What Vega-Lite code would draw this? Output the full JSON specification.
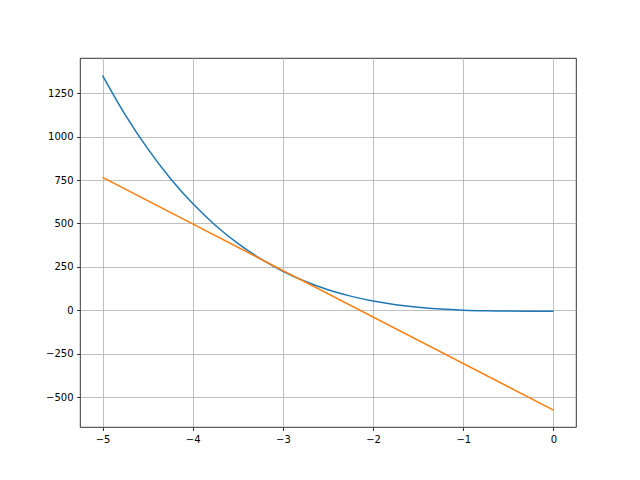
{
  "$schema": "https://vega.github.io/schema/vega-lite/v6.json",
  "autosize": "none",
  "width": 496,
  "height": 369,
  "padding": {"left": 80, "top": 58, "right": 64, "bottom": 53},
  "background": "white",
  "config": {
    "view": {"stroke": "black", "strokeWidth": 0.8},
    "axis": {
      "labelFont": "DejaVu Sans",
      "labelFontSize": 10,
      "labelColor": "black",
      "tickColor": "black",
      "tickSize": 3.5,
      "tickWidth": 0.8,
      "labelPadding": 3.5,
      "domain": false,
      "gridColor": "#b0b0b0",
      "gridWidth": 0.8,
      "title": null
    }
  },
  "data": {
    "values": [
      {"x": -5, "y": 1351.3, "s": "f"},
      {"x": -4.75, "y": 1126.5, "s": "f"},
      {"x": -4.5, "y": 930.4, "s": "f"},
      {"x": -4.25, "y": 760.5, "s": "f"},
      {"x": -4, "y": 614.5, "s": "f"},
      {"x": -3.75, "y": 490.1, "s": "f"},
      {"x": -3.5, "y": 385.0, "s": "f"},
      {"x": -3.25, "y": 297.1, "s": "f"},
      {"x": -3, "y": 224.8, "s": "f"},
      {"x": -2.75, "y": 165.9, "s": "f"},
      {"x": -2.5, "y": 118.8, "s": "f"},
      {"x": -2.25, "y": 82.0, "s": "f"},
      {"x": -2, "y": 53.7, "s": "f"},
      {"x": -1.75, "y": 32.8, "s": "f"},
      {"x": -1.5, "y": 17.8, "s": "f"},
      {"x": -1.25, "y": 7.7, "s": "f"},
      {"x": -1, "y": 1.2, "s": "f"},
      {"x": -0.75, "y": -2.5, "s": "f"},
      {"x": -0.5, "y": -4.3, "s": "f"},
      {"x": -0.25, "y": -4.9, "s": "f"},
      {"x": 0, "y": -5, "s": "f"},
      {"x": -5, "y": 765, "s": "t"},
      {"x": 0, "y": -574, "s": "t"}
    ]
  },
  "mark": {"type": "line", "strokeWidth": 1.5, "interpolate": "monotone"},
  "encoding": {
    "x": {
      "field": "x",
      "type": "quantitative",
      "scale": {"domain": [-5.25, 0.25], "nice": false, "zero": false},
      "axis": {"values": [-5, -4, -3, -2, -1, 0], "format": "d"}
    },
    "y": {
      "field": "y",
      "type": "quantitative",
      "scale": {"domain": [-671, 1452], "nice": false, "zero": false},
      "axis": {"values": [-500, -250, 0, 250, 500, 750, 1000, 1250], "format": "d"}
    },
    "color": {
      "field": "s",
      "type": "nominal",
      "scale": {"domain": ["f", "t"], "range": ["#1f77b4", "#ff7f0e"]},
      "legend": null
    }
  }
}
